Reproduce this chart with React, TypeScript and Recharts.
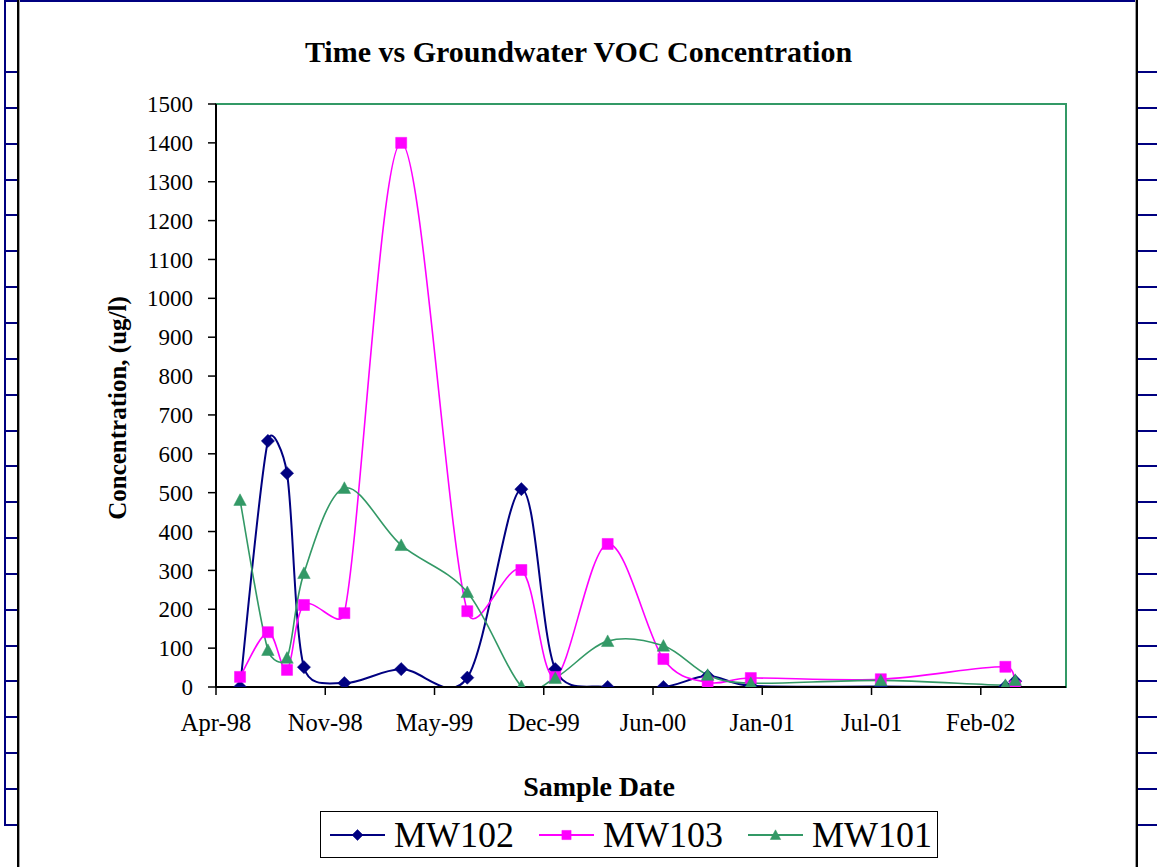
import React from 'react';
import { ComposedChart, Line, XAxis, YAxis, ReferenceArea, Legend } from 'recharts';

// ---------- data ----------
const BASE_DATE = '1998-04-15';
const sampleDates = [
  '1998-05-29', '1998-07-19', '1998-08-23', '1998-09-23', '1998-12-06', '1999-03-20',
  '1999-07-19', '1999-10-26', '1999-12-27', '2000-04-01', '2000-07-12', '2000-10-01',
  '2000-12-19', '2001-08-14', '2002-03-30', '2002-04-17',
];
const mw102 = [0, 633, 550, 51, 10, 46, 24, 509, 46, 0, 0, 28, 3, 1, 1, 15];
const mw103 = [26, 141, 44, 211, 190, 1400, 195, 301, 26, 368, 72, 12, 23, 20, 52, 2];
const mw101 = [481, 95, 75, 293, 512, 365, 244, 2, 23, 118, 106, 31, 10, 17, 5, 18];

const seriesNames = ['MW102', 'MW103', 'MW101'];
const seriesKeys = ['mw102', 'mw103', 'mw101'];

const xTickDays = [0, 200, 400, 600, 800, 1000, 1200, 1400];
const xTickLabels = ['Apr-98', 'Nov-98', 'May-99', 'Dec-99', 'Jun-00', 'Jan-01', 'Jul-01', 'Feb-02'];
const xMaxDays = 1556;
const yTicks = [0, 100, 200, 300, 400, 500, 600, 700, 800, 900, 1000, 1100, 1200, 1300, 1400, 1500];

const chartTitle = 'Time vs Groundwater VOC Concentration';
const xTitle = 'Sample Date';
const yTitle = 'Concentration, (ug/l)';

// ---------- build table ----------
const DAY = 86400000;
const baseMs = Date.parse(BASE_DATE);
const tableData = sampleDates.map((d, i) => ({
  x: (Date.parse(d) - baseMs) / DAY,
  mw102: mw102[i],
  mw103: mw103[i],
  mw101: mw101[i],
}));

// ---------- style ----------
const FONT = "'Liberation Serif', 'Times New Roman', serif";
const NAVY = '#000080';
const MAGENTA = '#FF00FF';
const GREEN = '#339966';
const colors = [NAVY, MAGENTA, GREEN];

// Excel-like smoothed curve: Bezier with 1/6 tangents, clamped to half segment length
function excelCurve(context: any) {
  let pts: number[][] = [];
  const ctl = (t: number[], d: number) => {
    let vx = t[0] / 6;
    let vy = t[1] / 6;
    const len = Math.hypot(vx, vy);
    const lim = d / 2;
    if (len > lim && len > 0) {
      vx = (vx * lim) / len;
      vy = (vy * lim) / len;
    }
    return [vx, vy];
  };
  return {
    areaStart() {},
    areaEnd() {},
    lineStart() {
      pts = [];
    },
    point(x: number, y: number) {
      pts.push([+x, +y]);
    },
    lineEnd() {
      const n = pts.length;
      if (n === 0) return;
      context.moveTo(pts[0][0], pts[0][1]);
      if (n === 1) return;
      const tan = pts.map((_, i) => {
        const a = pts[i === 0 ? 0 : i - 1];
        const b = pts[i === n - 1 ? n - 1 : i + 1];
        return [b[0] - a[0], b[1] - a[1]];
      });
      for (let i = 0; i < n - 1; i++) {
        const p1 = pts[i];
        const p2 = pts[i + 1];
        const d = Math.hypot(p2[0] - p1[0], p2[1] - p1[1]);
        const v1 = ctl(tan[i], d);
        const v2 = ctl(tan[i + 1], d);
        context.bezierCurveTo(
          p1[0] + v1[0],
          p1[1] + v1[1],
          p2[0] - v2[0],
          p2[1] - v2[1],
          p2[0],
          p2[1]
        );
      }
    },
  };
}

function markerPath(kind: number, cx: number, cy: number, s: number) {
  if (kind === 0) {
    const r = s * 0.55;
    return `M${cx},${cy - r}L${cx + r},${cy}L${cx},${cy + r}L${cx - r},${cy}Z`;
  }
  if (kind === 1) {
    const h = s * 0.46;
    return `M${cx - h},${cy - h}L${cx + h},${cy - h}L${cx + h},${cy + h}L${cx - h},${cy + h}Z`;
  }
  const w = s * 0.52;
  return `M${cx},${cy - s * 0.52}L${cx + w},${cy + s * 0.45}L${cx - w},${cy + s * 0.45}Z`;
}

const makeDot = (kind: number) => (p: any) => {
  const { cx, cy, index } = p;
  if (cx == null || cy == null) return <g key={`n${kind}-${index}`} />;
  return (
    <path
      key={`m${kind}-${index}`}
      d={markerPath(kind, cx, cy, 12)}
      fill={colors[kind]}
      stroke={colors[kind]}
      strokeWidth={0.5}
    />
  );
};

const yLabel = (props: any) => {
  const vb = props.viewBox || { x: 0, y: 104 };
  const cx = vb.x + 117;
  const cy = vb.y + 304;
  return (
    <text
      x={cx}
      y={cy}
      transform={`rotate(-90 ${cx} ${cy})`}
      textAnchor="middle"
      dominantBaseline="central"
      fontFamily={FONT}
      fontWeight="bold"
      fontSize={25}
      fill="#000"
    >
      {yTitle}
    </text>
  );
};

const xLabel = (props: any) => {
  const vb = props.viewBox || { x: 216, y: 687 };
  const cx = vb.x + 383;
  const cy = vb.y + 99;
  return (
    <text
      x={cx}
      y={cy}
      textAnchor="middle"
      dominantBaseline="central"
      fontFamily={FONT}
      fontWeight="bold"
      fontSize={28}
      fill="#000"
    >
      {xTitle}
    </text>
  );
};

const LegendBox = () => (
  <div
    style={{
      width: 618,
      height: 47,
      boxSizing: 'border-box',
      border: '1.5px solid #000',
      background: '#fff',
      display: 'flex',
      alignItems: 'center',
      paddingLeft: 9,
      gap: 25,
      fontFamily: FONT,
      fontSize: 36,
      lineHeight: 1,
      color: '#000',
    }}
  >
    {seriesNames.map((name, k) => (
      <div key={name} style={{ display: 'flex', alignItems: 'center', gap: 9 }}>
        <svg width={55} height={16} style={{ display: 'block' }}>
          <line x1={0} y1={8} x2={55} y2={8} stroke={colors[k]} strokeWidth={2} />
          <path d={markerPath(k, 27.5, 8, 10)} fill={colors[k]} stroke={colors[k]} strokeWidth={0.5} />
        </svg>
        <span>{name}</span>
      </div>
    ))}
  </div>
);

const Frame = () => {
  const rows: number[] = [];
  for (let k = 0; k <= 21; k++) rows.push(72 + k * 35.85);
  return (
    <svg
      width={1157}
      height={867}
      style={{ position: 'absolute', left: 0, top: 0, pointerEvents: 'none' }}
    >
      <rect x={4} y={0} width={1133} height={2} fill={NAVY} />
      <rect x={4} y={0} width={2} height={826} fill={NAVY} />
      {rows.map((y) => (
        <rect key={`l${y}`} x={4} y={Math.round(y) - 1} width={14} height={2} fill={NAVY} />
      ))}
      {rows.map((y) => (
        <rect key={`r${y}`} x={1138} y={Math.round(y) - 1} width={19} height={2} fill={NAVY} />
      ))}
      <rect x={17} y={0} width={2} height={867} fill="#000" />
      <rect x={19} y={0} width={1} height={867} fill="#a0a0a0" />
      <rect x={1136} y={0} width={2} height={867} fill="#000" />
      <rect x={1135} y={0} width={1} height={867} fill="#a0a0a0" />
    </svg>
  );
};

export default function App() {
  return (
    <div
      style={{
        position: 'absolute',
        left: 0,
        top: 0,
        width: 1157,
        height: 867,
        background: '#fff',
        overflow: 'hidden',
      }}
    >
      <div
        style={{
          position: 'absolute',
          left: 0,
          top: 37,
          width: 1157,
          textAlign: 'center',
          fontFamily: FONT,
          fontWeight: 'bold',
          fontSize: 30,
          lineHeight: '30px',
          color: '#000',
        }}
      >
        {chartTitle}
      </div>
      <ComposedChart
        width={1157}
        height={867}
        data={tableData}
        margin={{ top: 104, right: 91, bottom: 0, left: 0 }}
        style={{ position: 'absolute', left: 0, top: 0 }}
      >
        <ReferenceArea
          x1={0}
          x2={xMaxDays}
          y1={0}
          y2={1500}
          fill="none"
          stroke={GREEN}
          strokeWidth={2}
          ifOverflow="visible"
        />
        <XAxis
          type="number"
          dataKey="x"
          domain={[0, xMaxDays]}
          ticks={xTickDays}
          interval={0}
          allowDataOverflow
          tickFormatter={(v: number) => xTickLabels[xTickDays.indexOf(v)]}
          height={180}
          tickSize={8}
          tickMargin={19}
          axisLine={{ stroke: '#000', strokeWidth: 2 }}
          tickLine={{ stroke: '#000', strokeWidth: 1.5 }}
          tick={{ fontFamily: FONT, fontSize: 24.5, fill: '#000' }}
          label={xLabel}
        />
        <YAxis
          type="number"
          domain={[0, 1500]}
          ticks={yTicks}
          interval={0}
          allowDataOverflow
          width={216}
          tickSize={8}
          tickMargin={15}
          axisLine={{ stroke: '#000', strokeWidth: 2 }}
          tickLine={{ stroke: '#000', strokeWidth: 1.5 }}
          tick={{ fontFamily: FONT, fontSize: 23, fill: '#000' }}
          label={yLabel}
        />
        {seriesKeys.map((key, k) => (
          <Line
            key={key}
            dataKey={key}
            name={seriesNames[k]}
            type={excelCurve as any}
            stroke={colors[k]}
            strokeWidth={k === 0 ? 2 : 1.6}
            dot={makeDot(k)}
            activeDot={false}
            isAnimationActive={false}
          />
        ))}
        <Legend
          layout="vertical"
          align="center"
          verticalAlign="middle"
          wrapperStyle={{ left: 320, top: 811, width: 618, height: 47 }}
          content={() => <LegendBox />}
        />
      </ComposedChart>
      <Frame />
    </div>
  );
}
